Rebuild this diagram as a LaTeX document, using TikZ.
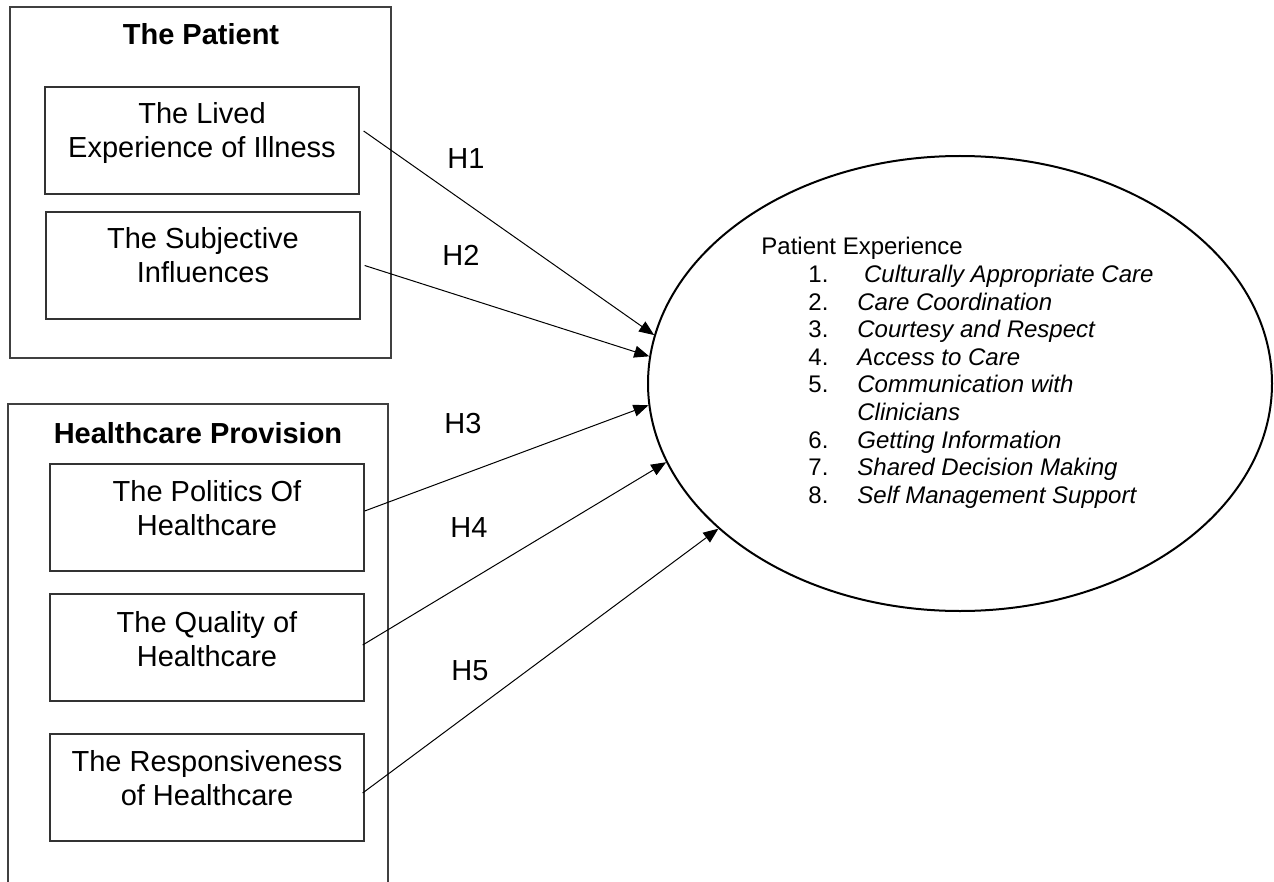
\documentclass[tikz,border=0pt]{standalone}
\usepackage{fontspec}
\setmainfont{Liberation Sans}
\usetikzlibrary{shapes.geometric,arrows.meta,calc}
\newcommand{\twoline}[2]{\begin{tabular}[t]{@{}c@{}}#1\\#2\end{tabular}}
\newcommand{\itemrow}[2]{\hspace*{23.5pt}\makebox[24.5pt][l]{#1}#2}
\begin{document}
\begin{tikzpicture}[x=0.5pt,y=-0.5pt,
  frame/.style={draw=black!75, line width=0.65pt, inner sep=0pt},
  box/.style={draw=black!80, line width=0.65pt, inner sep=0pt, minimum width=157pt, minimum height=53.5pt},
  boxtext/.style={anchor=base, inner sep=0pt, font=\fontsize{14.5}{17}\selectfont},
  title/.style={anchor=base, inner sep=0pt, font=\fontsize{14.5}{17}\selectfont\bfseries},
  hlabel/.style={anchor=base, inner sep=0pt, font=\fontsize{14.5}{17}\selectfont},
  link/.style={line width=0.5pt, -{Triangle[length=7.5pt,width=6pt]}},
]
\useasboundingbox (0,0) rectangle (1274,882);
\clip (0,0) rectangle (1274,882);

% The Patient group
\node[frame, minimum width=190.5pt, minimum height=175.5pt] (f1) at (200.5,182.5) {};
\node[title] (t1) at (201,45) {The Patient};
\node[box] (b1) at (202,140.5) {};
\node[boxtext] (l1) at (202,124) {\twoline{The Lived}{Experience of Illness}};
\node[box] (b2) at (203,265.5) {};
\node[boxtext] (l2) at (203,249) {\twoline{The Subjective}{Influences}};

% Healthcare Provision group
\node[frame, minimum width=190pt, minimum height=250pt] (f2) at (198,654) {};
\node[title] (t2) at (198,443) {Healthcare Provision};
\node[box] (b3) at (207,517.5) {};
\node[boxtext] (l3) at (207,501) {\twoline{The Politics Of}{Healthcare}};
\node[box] (b4) at (207,647.5) {};
\node[boxtext] (l4) at (207,632) {\twoline{The Quality of}{Healthcare}};
\node[box] (b5) at (207,787.5) {};
\node[boxtext] (l5) at (207,771) {\twoline{The Responsiveness}{of Healthcare}};

% Patient Experience ellipse
\node[ellipse, draw, line width=1pt, inner sep=0pt, minimum width=312pt, minimum height=227.5pt] (pe) at (960,383.5) {};
\node[anchor=base west, inner sep=0pt, font=\fontsize{12}{13.8}\selectfont] (petext) at (761,255)
 {\begin{tabular}[t]{@{}l@{}}
  Patient Experience\\
  \itemrow{1.}{\ \textit{Culturally Appropriate Care}}\\
  \itemrow{2.}{\textit{Care Coordination}}\\
  \itemrow{3.}{\textit{Courtesy and Respect}}\\
  \itemrow{4.}{\textit{Access to Care}}\\
  \itemrow{5.}{\textit{Communication with}}\\
  \itemrow{}{\textit{Clinicians}}\\
  \itemrow{6.}{\textit{Getting Information}}\\
  \itemrow{7.}{\textit{Shared Decision Making}}\\
  \itemrow{8.}{\textit{Self Management Support}}
  \end{tabular}};

% Hypothesis links
\draw[link] ($(b1.east)+(4,-9.5)$) -- (pe.171);
\draw[link] ($(b2.east)+(4,0)$) -- (pe.175);
\draw[link] ($(b3.east)+(0,-6.5)$) -- (pe.184);
\draw[link] ($(b4.east)+(-2,-2.5)$) -- (pe.195);
\draw[link] ($(b5.east)+(-2,5.5)$) -- (pe.211);

\node[hlabel] (h1) at (466,169) {H1};
\node[hlabel] (h2) at (461,266) {H2};
\node[hlabel] (h3) at (463,433) {H3};
\node[hlabel] (h4) at (469,537) {H4};
\node[hlabel] (h5) at (470,680) {H5};
\end{tikzpicture}
\end{document}
